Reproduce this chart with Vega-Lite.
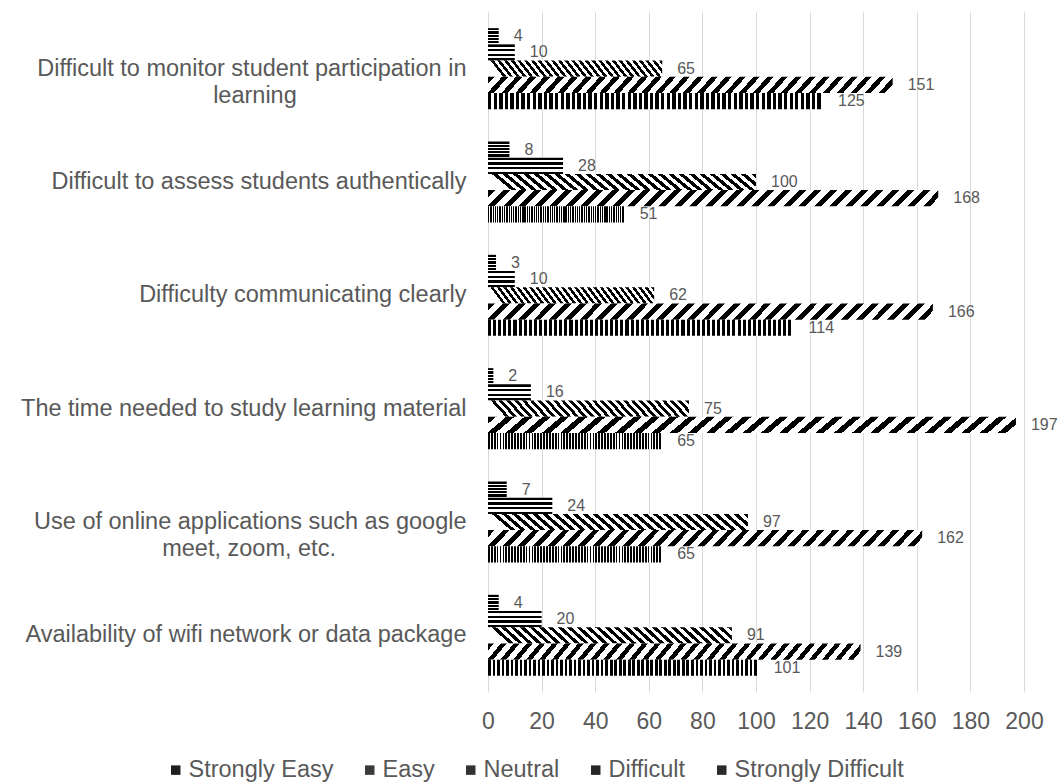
{
 "$schema": "https://vega.github.io/schema/vega-lite/v6.json",
 "width": 536,
 "height": 680,
 "autosize": {"type": "none"},
 "padding": {"left": 488, "top": 12, "right": 40, "bottom": 90},
 "background": "white",
 "config": {"view": {"stroke": null}, "font": "Liberation Sans"},
 "data": {"values": [
  {"item": "Difficult to monitor student participation in learning", "response": "Strongly Easy", "count": 4},
  {"item": "Difficult to monitor student participation in learning", "response": "Easy", "count": 10},
  {"item": "Difficult to monitor student participation in learning", "response": "Neutral", "count": 65},
  {"item": "Difficult to monitor student participation in learning", "response": "Difficult", "count": 151},
  {"item": "Difficult to monitor student participation in learning", "response": "Strongly Difficult", "count": 125},
  {"item": "Difficult to assess students authentically", "response": "Strongly Easy", "count": 8},
  {"item": "Difficult to assess students authentically", "response": "Easy", "count": 28},
  {"item": "Difficult to assess students authentically", "response": "Neutral", "count": 100},
  {"item": "Difficult to assess students authentically", "response": "Difficult", "count": 168},
  {"item": "Difficult to assess students authentically", "response": "Strongly Difficult", "count": 51},
  {"item": "Difficulty communicating clearly", "response": "Strongly Easy", "count": 3},
  {"item": "Difficulty communicating clearly", "response": "Easy", "count": 10},
  {"item": "Difficulty communicating clearly", "response": "Neutral", "count": 62},
  {"item": "Difficulty communicating clearly", "response": "Difficult", "count": 166},
  {"item": "Difficulty communicating clearly", "response": "Strongly Difficult", "count": 114},
  {"item": "The time needed to study learning material", "response": "Strongly Easy", "count": 2},
  {"item": "The time needed to study learning material", "response": "Easy", "count": 16},
  {"item": "The time needed to study learning material", "response": "Neutral", "count": 75},
  {"item": "The time needed to study learning material", "response": "Difficult", "count": 197},
  {"item": "The time needed to study learning material", "response": "Strongly Difficult", "count": 65},
  {"item": "Use of online applications such as google meet, zoom, etc.", "response": "Strongly Easy", "count": 7},
  {"item": "Use of online applications such as google meet, zoom, etc.", "response": "Easy", "count": 24},
  {"item": "Use of online applications such as google meet, zoom, etc.", "response": "Neutral", "count": 97},
  {"item": "Use of online applications such as google meet, zoom, etc.", "response": "Difficult", "count": 162},
  {"item": "Use of online applications such as google meet, zoom, etc.", "response": "Strongly Difficult", "count": 65},
  {"item": "Availability of wifi network or data package", "response": "Strongly Easy", "count": 4},
  {"item": "Availability of wifi network or data package", "response": "Easy", "count": 20},
  {"item": "Availability of wifi network or data package", "response": "Neutral", "count": 91},
  {"item": "Availability of wifi network or data package", "response": "Difficult", "count": 139},
  {"item": "Availability of wifi network or data package", "response": "Strongly Difficult", "count": 101}
 ]},
 "encoding": {
  "y": {
   "field": "item", "type": "nominal",
   "sort": ["Difficult to monitor student participation in learning", "Difficult to assess students authentically", "Difficulty communicating clearly", "The time needed to study learning material", "Use of online applications such as google meet, zoom, etc.", "Availability of wifi network or data package"],
   "scale": {"paddingInner": 0.285, "paddingOuter": 0.1425},
   "axis": {
    "title": null, "domain": false, "ticks": false, "grid": false,
    "labelFontSize": 23.5, "labelColor": "#595959", "labelPadding": 22, "labelLimit": 0,
    "labelLineHeight": 27, "labelAlign": "right", "labelBaseline": "middle",
    "labelExpr": "datum.value == 'Difficult to monitor student participation in learning' ? ['Difficult to monitor student participation in', 'learning\u00a0\u00a0\u00a0\u00a0\u00a0\u00a0\u00a0\u00a0\u00a0\u00a0\u00a0\u00a0\u00a0\u00a0\u00a0\u00a0\u00a0\u00a0\u00a0\u00a0\u00a0\u00a0\u00a0\u00a0\u00a0\u00a0\u200b'] : datum.value == 'Use of online applications such as google meet, zoom, etc.' ? ['Use of online applications such as google', 'meet, zoom, etc.\u00a0\u00a0\u00a0\u00a0\u00a0\u00a0\u00a0\u00a0\u00a0\u00a0\u00a0\u00a0\u00a0\u00a0\u00a0\u00a0\u00a0\u00a0\u00a0\u00a0\u200b'] : datum.value"
   }
  },
  "yOffset": {
   "field": "response", "type": "nominal",
   "sort": ["Strongly Easy", "Easy", "Neutral", "Difficult", "Strongly Difficult"],
   "scale": {"paddingInner": 0, "paddingOuter": 0}
  },
  "x": {
   "field": "count", "type": "quantitative",
   "scale": {"domain": [0, 200], "nice": false},
   "axis": {
    "title": null, "domain": false, "ticks": false, "grid": true, "gridColor": "#d9d9d9", "gridWidth": 1,
    "values": [0, 20, 40, 60, 80, 100, 120, 140, 160, 180, 200],
    "labelFontSize": 23, "labelColor": "#595959", "labelPadding": 18, "labelOverlap": false, "labelFlush": false
   }
  }
 },
 "layer": [
  {
   "mark": {"type": "bar", "opacity": 0},
   "encoding": {
    "color": {
     "field": "response", "type": "nominal",
     "scale": {
      "domain": ["Strongly Easy", "Easy", "Neutral", "Difficult", "Strongly Difficult"],
      "range": ["#1f1f1f", "#3a3a3a", "#333333", "#262626", "#2a2a2a"]
     },
     "legend": {
      "title": null, "orient": "none", "legendX": -324, "legendY": 746, "direction": "horizontal",
      "symbolType": "square", "symbolSize": 90, "symbolStrokeWidth": 0, "symbolOpacity": 1,
      "labelFontSize": 23.5, "labelColor": "#595959", "labelOffset": 1, "labelLimit": 0,
      "columnPadding": 24, "padding": 0
     }
    }
   }
  },
  {
   "mark": {"type": "bar"},
   "encoding": {
    "fill": {
     "condition": [
      {"test": "datum.response === 'Strongly Easy'", "value":
       {"gradient": "linear", "x1": 0, "y1": 0, "x2": 0, "y2": 1, "stops": [
        {"offset": 0, "color": "#000"}, {"offset": 0.14, "color": "#000"}, {"offset": 0.14, "color": "#fff"}, {"offset": 0.2, "color": "#fff"},
        {"offset": 0.2, "color": "#000"}, {"offset": 0.34, "color": "#000"}, {"offset": 0.34, "color": "#fff"}, {"offset": 0.4, "color": "#fff"},
        {"offset": 0.4, "color": "#000"}, {"offset": 0.54, "color": "#000"}, {"offset": 0.54, "color": "#fff"}, {"offset": 0.6, "color": "#fff"},
        {"offset": 0.6, "color": "#000"}, {"offset": 0.74, "color": "#000"}, {"offset": 0.74, "color": "#fff"}, {"offset": 0.8, "color": "#fff"},
        {"offset": 0.8, "color": "#000"}, {"offset": 0.94, "color": "#000"}, {"offset": 0.94, "color": "#fff"}, {"offset": 1, "color": "#fff"}
       ]}},
      {"test": "datum.response === 'Easy'", "value":
       {"gradient": "linear", "x1": 0, "y1": 0, "x2": 0, "y2": 1, "stops": [
        {"offset": 0, "color": "#000"}, {"offset": 0.143, "color": "#000"}, {"offset": 0.143, "color": "#fff"}, {"offset": 0.286, "color": "#fff"},
        {"offset": 0.286, "color": "#000"}, {"offset": 0.429, "color": "#000"}, {"offset": 0.429, "color": "#fff"}, {"offset": 0.571, "color": "#fff"},
        {"offset": 0.571, "color": "#000"}, {"offset": 0.714, "color": "#000"}, {"offset": 0.714, "color": "#fff"}, {"offset": 0.857, "color": "#fff"},
        {"offset": 0.857, "color": "#000"}, {"offset": 1, "color": "#000"}
       ]}},
      {"test": "datum.response === 'Neutral'", "value":
       {"gradient": "linear", "x1": 0, "y1": 0.073, "x2": 1, "y2": 0, "stops": [
        {"offset": 0, "color": "#fff"}, {"offset": 0.0192, "color": "#fff"}, {"offset": 0.0192, "color": "#000"}, {"offset": 0.0385, "color": "#000"},
        {"offset": 0.0385, "color": "#fff"}, {"offset": 0.0577, "color": "#fff"}, {"offset": 0.0577, "color": "#000"}, {"offset": 0.0769, "color": "#000"},
        {"offset": 0.0769, "color": "#fff"}, {"offset": 0.0962, "color": "#fff"}, {"offset": 0.0962, "color": "#000"}, {"offset": 0.1154, "color": "#000"},
        {"offset": 0.1154, "color": "#fff"}, {"offset": 0.1346, "color": "#fff"}, {"offset": 0.1346, "color": "#000"}, {"offset": 0.1538, "color": "#000"},
        {"offset": 0.1538, "color": "#fff"}, {"offset": 0.1731, "color": "#fff"}, {"offset": 0.1731, "color": "#000"}, {"offset": 0.1923, "color": "#000"},
        {"offset": 0.1923, "color": "#fff"}, {"offset": 0.2115, "color": "#fff"}, {"offset": 0.2115, "color": "#000"}, {"offset": 0.2308, "color": "#000"},
        {"offset": 0.2308, "color": "#fff"}, {"offset": 0.25, "color": "#fff"}, {"offset": 0.25, "color": "#000"}, {"offset": 0.2692, "color": "#000"},
        {"offset": 0.2692, "color": "#fff"}, {"offset": 0.2885, "color": "#fff"}, {"offset": 0.2885, "color": "#000"}, {"offset": 0.3077, "color": "#000"},
        {"offset": 0.3077, "color": "#fff"}, {"offset": 0.3269, "color": "#fff"}, {"offset": 0.3269, "color": "#000"}, {"offset": 0.3462, "color": "#000"},
        {"offset": 0.3462, "color": "#fff"}, {"offset": 0.3654, "color": "#fff"}, {"offset": 0.3654, "color": "#000"}, {"offset": 0.3846, "color": "#000"},
        {"offset": 0.3846, "color": "#fff"}, {"offset": 0.4038, "color": "#fff"}, {"offset": 0.4038, "color": "#000"}, {"offset": 0.4231, "color": "#000"},
        {"offset": 0.4231, "color": "#fff"}, {"offset": 0.4423, "color": "#fff"}, {"offset": 0.4423, "color": "#000"}, {"offset": 0.4615, "color": "#000"},
        {"offset": 0.4615, "color": "#fff"}, {"offset": 0.4808, "color": "#fff"}, {"offset": 0.4808, "color": "#000"}, {"offset": 0.5, "color": "#000"},
        {"offset": 0.5, "color": "#fff"}, {"offset": 0.5192, "color": "#fff"}, {"offset": 0.5192, "color": "#000"}, {"offset": 0.5385, "color": "#000"},
        {"offset": 0.5385, "color": "#fff"}, {"offset": 0.5577, "color": "#fff"}, {"offset": 0.5577, "color": "#000"}, {"offset": 0.5769, "color": "#000"},
        {"offset": 0.5769, "color": "#fff"}, {"offset": 0.5962, "color": "#fff"}, {"offset": 0.5962, "color": "#000"}, {"offset": 0.6154, "color": "#000"},
        {"offset": 0.6154, "color": "#fff"}, {"offset": 0.6346, "color": "#fff"}, {"offset": 0.6346, "color": "#000"}, {"offset": 0.6538, "color": "#000"},
        {"offset": 0.6538, "color": "#fff"}, {"offset": 0.6731, "color": "#fff"}, {"offset": 0.6731, "color": "#000"}, {"offset": 0.6923, "color": "#000"},
        {"offset": 0.6923, "color": "#fff"}, {"offset": 0.7115, "color": "#fff"}, {"offset": 0.7115, "color": "#000"}, {"offset": 0.7308, "color": "#000"},
        {"offset": 0.7308, "color": "#fff"}, {"offset": 0.75, "color": "#fff"}, {"offset": 0.75, "color": "#000"}, {"offset": 0.7692, "color": "#000"},
        {"offset": 0.7692, "color": "#fff"}, {"offset": 0.7885, "color": "#fff"}, {"offset": 0.7885, "color": "#000"}, {"offset": 0.8077, "color": "#000"},
        {"offset": 0.8077, "color": "#fff"}, {"offset": 0.8269, "color": "#fff"}, {"offset": 0.8269, "color": "#000"}, {"offset": 0.8462, "color": "#000"},
        {"offset": 0.8462, "color": "#fff"}, {"offset": 0.8654, "color": "#fff"}, {"offset": 0.8654, "color": "#000"}, {"offset": 0.8846, "color": "#000"},
        {"offset": 0.8846, "color": "#fff"}, {"offset": 0.9038, "color": "#fff"}, {"offset": 0.9038, "color": "#000"}, {"offset": 0.9231, "color": "#000"},
        {"offset": 0.9231, "color": "#fff"}, {"offset": 0.9423, "color": "#fff"}, {"offset": 0.9423, "color": "#000"}, {"offset": 0.9615, "color": "#000"},
        {"offset": 0.9615, "color": "#fff"}, {"offset": 0.9808, "color": "#fff"}, {"offset": 0.9808, "color": "#000"}, {"offset": 1, "color": "#000"}
       ]}},
      {"test": "datum.response === 'Difficult'", "value":
       {"gradient": "linear", "x1": 0, "y1": 0, "x2": 1.0346, "y2": 0.0372, "stops": [
        {"offset": 0, "color": "#000"}, {"offset": 0.015, "color": "#000"}, {"offset": 0.015, "color": "#fff"}, {"offset": 0.0333, "color": "#fff"},
        {"offset": 0.0333, "color": "#000"}, {"offset": 0.0483, "color": "#000"}, {"offset": 0.0483, "color": "#fff"}, {"offset": 0.0667, "color": "#fff"},
        {"offset": 0.0667, "color": "#000"}, {"offset": 0.0817, "color": "#000"}, {"offset": 0.0817, "color": "#fff"}, {"offset": 0.1, "color": "#fff"},
        {"offset": 0.1, "color": "#000"}, {"offset": 0.115, "color": "#000"}, {"offset": 0.115, "color": "#fff"}, {"offset": 0.1333, "color": "#fff"},
        {"offset": 0.1333, "color": "#000"}, {"offset": 0.1483, "color": "#000"}, {"offset": 0.1483, "color": "#fff"}, {"offset": 0.1667, "color": "#fff"},
        {"offset": 0.1667, "color": "#000"}, {"offset": 0.1817, "color": "#000"}, {"offset": 0.1817, "color": "#fff"}, {"offset": 0.2, "color": "#fff"},
        {"offset": 0.2, "color": "#000"}, {"offset": 0.215, "color": "#000"}, {"offset": 0.215, "color": "#fff"}, {"offset": 0.2333, "color": "#fff"},
        {"offset": 0.2333, "color": "#000"}, {"offset": 0.2483, "color": "#000"}, {"offset": 0.2483, "color": "#fff"}, {"offset": 0.2667, "color": "#fff"},
        {"offset": 0.2667, "color": "#000"}, {"offset": 0.2817, "color": "#000"}, {"offset": 0.2817, "color": "#fff"}, {"offset": 0.3, "color": "#fff"},
        {"offset": 0.3, "color": "#000"}, {"offset": 0.315, "color": "#000"}, {"offset": 0.315, "color": "#fff"}, {"offset": 0.3333, "color": "#fff"},
        {"offset": 0.3333, "color": "#000"}, {"offset": 0.3483, "color": "#000"}, {"offset": 0.3483, "color": "#fff"}, {"offset": 0.3667, "color": "#fff"},
        {"offset": 0.3667, "color": "#000"}, {"offset": 0.3817, "color": "#000"}, {"offset": 0.3817, "color": "#fff"}, {"offset": 0.4, "color": "#fff"},
        {"offset": 0.4, "color": "#000"}, {"offset": 0.415, "color": "#000"}, {"offset": 0.415, "color": "#fff"}, {"offset": 0.4333, "color": "#fff"},
        {"offset": 0.4333, "color": "#000"}, {"offset": 0.4483, "color": "#000"}, {"offset": 0.4483, "color": "#fff"}, {"offset": 0.4667, "color": "#fff"},
        {"offset": 0.4667, "color": "#000"}, {"offset": 0.4817, "color": "#000"}, {"offset": 0.4817, "color": "#fff"}, {"offset": 0.5, "color": "#fff"},
        {"offset": 0.5, "color": "#000"}, {"offset": 0.515, "color": "#000"}, {"offset": 0.515, "color": "#fff"}, {"offset": 0.5333, "color": "#fff"},
        {"offset": 0.5333, "color": "#000"}, {"offset": 0.5483, "color": "#000"}, {"offset": 0.5483, "color": "#fff"}, {"offset": 0.5667, "color": "#fff"},
        {"offset": 0.5667, "color": "#000"}, {"offset": 0.5817, "color": "#000"}, {"offset": 0.5817, "color": "#fff"}, {"offset": 0.6, "color": "#fff"},
        {"offset": 0.6, "color": "#000"}, {"offset": 0.615, "color": "#000"}, {"offset": 0.615, "color": "#fff"}, {"offset": 0.6333, "color": "#fff"},
        {"offset": 0.6333, "color": "#000"}, {"offset": 0.6483, "color": "#000"}, {"offset": 0.6483, "color": "#fff"}, {"offset": 0.6667, "color": "#fff"},
        {"offset": 0.6667, "color": "#000"}, {"offset": 0.6817, "color": "#000"}, {"offset": 0.6817, "color": "#fff"}, {"offset": 0.7, "color": "#fff"},
        {"offset": 0.7, "color": "#000"}, {"offset": 0.715, "color": "#000"}, {"offset": 0.715, "color": "#fff"}, {"offset": 0.7333, "color": "#fff"},
        {"offset": 0.7333, "color": "#000"}, {"offset": 0.7483, "color": "#000"}, {"offset": 0.7483, "color": "#fff"}, {"offset": 0.7667, "color": "#fff"},
        {"offset": 0.7667, "color": "#000"}, {"offset": 0.7817, "color": "#000"}, {"offset": 0.7817, "color": "#fff"}, {"offset": 0.8, "color": "#fff"},
        {"offset": 0.8, "color": "#000"}, {"offset": 0.815, "color": "#000"}, {"offset": 0.815, "color": "#fff"}, {"offset": 0.8333, "color": "#fff"},
        {"offset": 0.8333, "color": "#000"}, {"offset": 0.8483, "color": "#000"}, {"offset": 0.8483, "color": "#fff"}, {"offset": 0.8667, "color": "#fff"},
        {"offset": 0.8667, "color": "#000"}, {"offset": 0.8817, "color": "#000"}, {"offset": 0.8817, "color": "#fff"}, {"offset": 0.9, "color": "#fff"},
        {"offset": 0.9, "color": "#000"}, {"offset": 0.915, "color": "#000"}, {"offset": 0.915, "color": "#fff"}, {"offset": 0.9333, "color": "#fff"},
        {"offset": 0.9333, "color": "#000"}, {"offset": 0.9483, "color": "#000"}, {"offset": 0.9483, "color": "#fff"}, {"offset": 0.9667, "color": "#fff"},
        {"offset": 0.9667, "color": "#000"}, {"offset": 0.9817, "color": "#000"}, {"offset": 0.9817, "color": "#fff"}, {"offset": 1, "color": "#fff"}
       ]}},
      {"test": "datum.response === 'Strongly Difficult'", "value":
       {"gradient": "linear", "x1": 0, "y1": 0, "x2": 1, "y2": 0, "stops": [
        {"offset": 0, "color": "#000"}, {"offset": 0.01, "color": "#000"}, {"offset": 0.01, "color": "#fff"}, {"offset": 0.0167, "color": "#fff"},
        {"offset": 0.0167, "color": "#000"}, {"offset": 0.0267, "color": "#000"}, {"offset": 0.0267, "color": "#fff"}, {"offset": 0.0333, "color": "#fff"},
        {"offset": 0.0333, "color": "#000"}, {"offset": 0.0433, "color": "#000"}, {"offset": 0.0433, "color": "#fff"}, {"offset": 0.05, "color": "#fff"},
        {"offset": 0.05, "color": "#000"}, {"offset": 0.06, "color": "#000"}, {"offset": 0.06, "color": "#fff"}, {"offset": 0.0667, "color": "#fff"},
        {"offset": 0.0667, "color": "#000"}, {"offset": 0.0767, "color": "#000"}, {"offset": 0.0767, "color": "#fff"}, {"offset": 0.0833, "color": "#fff"},
        {"offset": 0.0833, "color": "#000"}, {"offset": 0.0933, "color": "#000"}, {"offset": 0.0933, "color": "#fff"}, {"offset": 0.1, "color": "#fff"},
        {"offset": 0.1, "color": "#000"}, {"offset": 0.11, "color": "#000"}, {"offset": 0.11, "color": "#fff"}, {"offset": 0.1167, "color": "#fff"},
        {"offset": 0.1167, "color": "#000"}, {"offset": 0.1267, "color": "#000"}, {"offset": 0.1267, "color": "#fff"}, {"offset": 0.1333, "color": "#fff"},
        {"offset": 0.1333, "color": "#000"}, {"offset": 0.1433, "color": "#000"}, {"offset": 0.1433, "color": "#fff"}, {"offset": 0.15, "color": "#fff"},
        {"offset": 0.15, "color": "#000"}, {"offset": 0.16, "color": "#000"}, {"offset": 0.16, "color": "#fff"}, {"offset": 0.1667, "color": "#fff"},
        {"offset": 0.1667, "color": "#000"}, {"offset": 0.1767, "color": "#000"}, {"offset": 0.1767, "color": "#fff"}, {"offset": 0.1833, "color": "#fff"},
        {"offset": 0.1833, "color": "#000"}, {"offset": 0.1933, "color": "#000"}, {"offset": 0.1933, "color": "#fff"}, {"offset": 0.2, "color": "#fff"},
        {"offset": 0.2, "color": "#000"}, {"offset": 0.21, "color": "#000"}, {"offset": 0.21, "color": "#fff"}, {"offset": 0.2167, "color": "#fff"},
        {"offset": 0.2167, "color": "#000"}, {"offset": 0.2267, "color": "#000"}, {"offset": 0.2267, "color": "#fff"}, {"offset": 0.2333, "color": "#fff"},
        {"offset": 0.2333, "color": "#000"}, {"offset": 0.2433, "color": "#000"}, {"offset": 0.2433, "color": "#fff"}, {"offset": 0.25, "color": "#fff"},
        {"offset": 0.25, "color": "#000"}, {"offset": 0.26, "color": "#000"}, {"offset": 0.26, "color": "#fff"}, {"offset": 0.2667, "color": "#fff"},
        {"offset": 0.2667, "color": "#000"}, {"offset": 0.2767, "color": "#000"}, {"offset": 0.2767, "color": "#fff"}, {"offset": 0.2833, "color": "#fff"},
        {"offset": 0.2833, "color": "#000"}, {"offset": 0.2933, "color": "#000"}, {"offset": 0.2933, "color": "#fff"}, {"offset": 0.3, "color": "#fff"},
        {"offset": 0.3, "color": "#000"}, {"offset": 0.31, "color": "#000"}, {"offset": 0.31, "color": "#fff"}, {"offset": 0.3167, "color": "#fff"},
        {"offset": 0.3167, "color": "#000"}, {"offset": 0.3267, "color": "#000"}, {"offset": 0.3267, "color": "#fff"}, {"offset": 0.3333, "color": "#fff"},
        {"offset": 0.3333, "color": "#000"}, {"offset": 0.3433, "color": "#000"}, {"offset": 0.3433, "color": "#fff"}, {"offset": 0.35, "color": "#fff"},
        {"offset": 0.35, "color": "#000"}, {"offset": 0.36, "color": "#000"}, {"offset": 0.36, "color": "#fff"}, {"offset": 0.3667, "color": "#fff"},
        {"offset": 0.3667, "color": "#000"}, {"offset": 0.3767, "color": "#000"}, {"offset": 0.3767, "color": "#fff"}, {"offset": 0.3833, "color": "#fff"},
        {"offset": 0.3833, "color": "#000"}, {"offset": 0.3933, "color": "#000"}, {"offset": 0.3933, "color": "#fff"}, {"offset": 0.4, "color": "#fff"},
        {"offset": 0.4, "color": "#000"}, {"offset": 0.41, "color": "#000"}, {"offset": 0.41, "color": "#fff"}, {"offset": 0.4167, "color": "#fff"},
        {"offset": 0.4167, "color": "#000"}, {"offset": 0.4267, "color": "#000"}, {"offset": 0.4267, "color": "#fff"}, {"offset": 0.4333, "color": "#fff"},
        {"offset": 0.4333, "color": "#000"}, {"offset": 0.4433, "color": "#000"}, {"offset": 0.4433, "color": "#fff"}, {"offset": 0.45, "color": "#fff"},
        {"offset": 0.45, "color": "#000"}, {"offset": 0.46, "color": "#000"}, {"offset": 0.46, "color": "#fff"}, {"offset": 0.4667, "color": "#fff"},
        {"offset": 0.4667, "color": "#000"}, {"offset": 0.4767, "color": "#000"}, {"offset": 0.4767, "color": "#fff"}, {"offset": 0.4833, "color": "#fff"},
        {"offset": 0.4833, "color": "#000"}, {"offset": 0.4933, "color": "#000"}, {"offset": 0.4933, "color": "#fff"}, {"offset": 0.5, "color": "#fff"},
        {"offset": 0.5, "color": "#000"}, {"offset": 0.51, "color": "#000"}, {"offset": 0.51, "color": "#fff"}, {"offset": 0.5167, "color": "#fff"},
        {"offset": 0.5167, "color": "#000"}, {"offset": 0.5267, "color": "#000"}, {"offset": 0.5267, "color": "#fff"}, {"offset": 0.5333, "color": "#fff"},
        {"offset": 0.5333, "color": "#000"}, {"offset": 0.5433, "color": "#000"}, {"offset": 0.5433, "color": "#fff"}, {"offset": 0.55, "color": "#fff"},
        {"offset": 0.55, "color": "#000"}, {"offset": 0.56, "color": "#000"}, {"offset": 0.56, "color": "#fff"}, {"offset": 0.5667, "color": "#fff"},
        {"offset": 0.5667, "color": "#000"}, {"offset": 0.5767, "color": "#000"}, {"offset": 0.5767, "color": "#fff"}, {"offset": 0.5833, "color": "#fff"},
        {"offset": 0.5833, "color": "#000"}, {"offset": 0.5933, "color": "#000"}, {"offset": 0.5933, "color": "#fff"}, {"offset": 0.6, "color": "#fff"},
        {"offset": 0.6, "color": "#000"}, {"offset": 0.61, "color": "#000"}, {"offset": 0.61, "color": "#fff"}, {"offset": 0.6167, "color": "#fff"},
        {"offset": 0.6167, "color": "#000"}, {"offset": 0.6267, "color": "#000"}, {"offset": 0.6267, "color": "#fff"}, {"offset": 0.6333, "color": "#fff"},
        {"offset": 0.6333, "color": "#000"}, {"offset": 0.6433, "color": "#000"}, {"offset": 0.6433, "color": "#fff"}, {"offset": 0.65, "color": "#fff"},
        {"offset": 0.65, "color": "#000"}, {"offset": 0.66, "color": "#000"}, {"offset": 0.66, "color": "#fff"}, {"offset": 0.6667, "color": "#fff"},
        {"offset": 0.6667, "color": "#000"}, {"offset": 0.6767, "color": "#000"}, {"offset": 0.6767, "color": "#fff"}, {"offset": 0.6833, "color": "#fff"},
        {"offset": 0.6833, "color": "#000"}, {"offset": 0.6933, "color": "#000"}, {"offset": 0.6933, "color": "#fff"}, {"offset": 0.7, "color": "#fff"},
        {"offset": 0.7, "color": "#000"}, {"offset": 0.71, "color": "#000"}, {"offset": 0.71, "color": "#fff"}, {"offset": 0.7167, "color": "#fff"},
        {"offset": 0.7167, "color": "#000"}, {"offset": 0.7267, "color": "#000"}, {"offset": 0.7267, "color": "#fff"}, {"offset": 0.7333, "color": "#fff"},
        {"offset": 0.7333, "color": "#000"}, {"offset": 0.7433, "color": "#000"}, {"offset": 0.7433, "color": "#fff"}, {"offset": 0.75, "color": "#fff"},
        {"offset": 0.75, "color": "#000"}, {"offset": 0.76, "color": "#000"}, {"offset": 0.76, "color": "#fff"}, {"offset": 0.7667, "color": "#fff"},
        {"offset": 0.7667, "color": "#000"}, {"offset": 0.7767, "color": "#000"}, {"offset": 0.7767, "color": "#fff"}, {"offset": 0.7833, "color": "#fff"},
        {"offset": 0.7833, "color": "#000"}, {"offset": 0.7933, "color": "#000"}, {"offset": 0.7933, "color": "#fff"}, {"offset": 0.8, "color": "#fff"},
        {"offset": 0.8, "color": "#000"}, {"offset": 0.81, "color": "#000"}, {"offset": 0.81, "color": "#fff"}, {"offset": 0.8167, "color": "#fff"},
        {"offset": 0.8167, "color": "#000"}, {"offset": 0.8267, "color": "#000"}, {"offset": 0.8267, "color": "#fff"}, {"offset": 0.8333, "color": "#fff"},
        {"offset": 0.8333, "color": "#000"}, {"offset": 0.8433, "color": "#000"}, {"offset": 0.8433, "color": "#fff"}, {"offset": 0.85, "color": "#fff"},
        {"offset": 0.85, "color": "#000"}, {"offset": 0.86, "color": "#000"}, {"offset": 0.86, "color": "#fff"}, {"offset": 0.8667, "color": "#fff"},
        {"offset": 0.8667, "color": "#000"}, {"offset": 0.8767, "color": "#000"}, {"offset": 0.8767, "color": "#fff"}, {"offset": 0.8833, "color": "#fff"},
        {"offset": 0.8833, "color": "#000"}, {"offset": 0.8933, "color": "#000"}, {"offset": 0.8933, "color": "#fff"}, {"offset": 0.9, "color": "#fff"},
        {"offset": 0.9, "color": "#000"}, {"offset": 0.91, "color": "#000"}, {"offset": 0.91, "color": "#fff"}, {"offset": 0.9167, "color": "#fff"},
        {"offset": 0.9167, "color": "#000"}, {"offset": 0.9267, "color": "#000"}, {"offset": 0.9267, "color": "#fff"}, {"offset": 0.9333, "color": "#fff"},
        {"offset": 0.9333, "color": "#000"}, {"offset": 0.9433, "color": "#000"}, {"offset": 0.9433, "color": "#fff"}, {"offset": 0.95, "color": "#fff"},
        {"offset": 0.95, "color": "#000"}, {"offset": 0.96, "color": "#000"}, {"offset": 0.96, "color": "#fff"}, {"offset": 0.9667, "color": "#fff"},
        {"offset": 0.9667, "color": "#000"}, {"offset": 0.9767, "color": "#000"}, {"offset": 0.9767, "color": "#fff"}, {"offset": 0.9833, "color": "#fff"},
        {"offset": 0.9833, "color": "#000"}, {"offset": 0.9933, "color": "#000"}, {"offset": 0.9933, "color": "#fff"}, {"offset": 1, "color": "#fff"}
       ]}}
     ],
     "value": "#333333"
    }
   }
  },
  {
   "mark": {"type": "text", "align": "left", "baseline": "middle", "dx": 15, "fontSize": 16, "color": "#595959"},
   "encoding": {"text": {"field": "count", "type": "quantitative"}}
  }
 ]
}
